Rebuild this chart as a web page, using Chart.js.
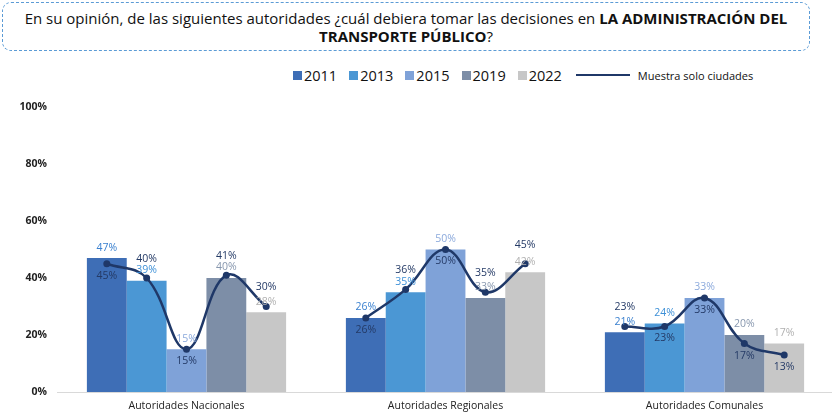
<!DOCTYPE html>
<html>
<head>
<meta charset="utf-8">
<script src="https://cdn.jsdelivr.net/npm/chart.js@4.4.1/dist/chart.umd.min.js"></script>
<style>
    body { margin: 0; background: #fff; font-family: "Open Sans", sans-serif; }
    #wrap { position: relative; width: 832px; height: 415px; overflow: hidden; }
    #title {
        position: absolute; left: 2px; top: 2px; width: 808px; height: 49px;
        box-sizing: border-box; border: 1.5px dashed #5b9bd5; border-radius: 9px;
        text-align: center; font-size: 15px; line-height: 18px; color: #111; padding-top: 6px;
        white-space: nowrap;
    }
    #legend { position: absolute; left: 293px; top: 64px; height: 22px; display: flex; align-items: center; color: #111; }
    .item { display: flex; align-items: center; margin-right: 12px; font-size: 14.5px; }
    .swatch { width: 9px; height: 9px; margin-right: 2px; }
    .lineSwatch { width: 54px; height: 2.5px; margin: 0 8px 0 2px; }
    .lineText { font-size: 11px; }
    #chartBox { position: absolute; left: 0; top: 95px; line-height: 0; }
</style>
</head>
<body>
<div id="wrap">
    <div id="title">En su opinión, de las siguientes autoridades ¿cuál debiera tomar las decisiones en <b>LA ADMINISTRACIÓN DEL<br>TRANSPORTE PÚBLICO</b>?</div>
    <div id="legend"></div>
    <div id="chartBox"><canvas id="chart" width="838" height="320"></canvas></div>
</div>
<script>
// ---- data ----
const groups = ['Autoridades Nacionales', 'Autoridades Regionales', 'Autoridades Comunales'];
const years = ['2011', '2013', '2015', '2019', '2022'];
const v2011 = [47, 26, 21];
const v2013 = [39, 35, 24];
const v2015 = [15, 50, 33];
const v2019 = [40, 33, 20];
const v2022 = [28, 42, 17];
// "Muestra solo ciudades": one value per year inside each group
const ciudadesNac = [45, 40, 15, 41, 30];
const ciudadesReg = [26, 36, 50, 35, 45];
const ciudadesCom = [23, 23, 33, 17, 13];
const lineName = 'Muestra solo ciudades';
const yTicks = [0, 20, 40, 60, 80, 100];

// ---- styling ----
const barColors = ['#3e6eb6', '#4b97d4', '#7fa2d8', '#7d8ea7', '#c7c7c7'];
const barLabelColors = ['#3a80cf', '#3d90d7', '#8caadc', '#8797ae', '#b0b0b0'];
const lineColor = '#1f3868';
// where each line label sits relative to its point
const lineLabelSide = [
    ['below', 'above', 'below', 'above', 'above'],
    ['below', 'above', 'below', 'above', 'above'],
    ['above', 'below', 'below', 'below', 'below']
];

const seriesValues = [v2011, v2013, v2015, v2019, v2022];
const ciudades = [ciudadesNac, ciudadesReg, ciudadesCom];

// bars fill 200px of each 260px group
const catPct = 200 / 260;
const barUnit = catPct / years.length;

// line points sit at the centre of each bar (fractional category index);
// a null between groups breaks the line
const lineData = [];
const lineSides = [];
ciudades.forEach((vals, g) => {
    vals.forEach((v, j) => {
        lineData.push({ x: g + (j - (years.length - 1) / 2) * barUnit, y: v });
        lineSides.push(lineLabelSide[g][j]);
    });
    lineData.push({ x: g + 0.5, y: null });
    lineSides.push(null);
});

// HTML legend
const legend = document.getElementById('legend');
years.forEach((yr, i) => {
    const it = document.createElement('div');
    it.className = 'item';
    it.innerHTML = `<span class="swatch" style="background:${barColors[i]}"></span>${yr}`;
    legend.appendChild(it);
});
const li = document.createElement('div');
li.className = 'item';
li.innerHTML = `<span class="lineSwatch" style="background:${lineColor}"></span><span class="lineText">${lineName}</span>`;
legend.appendChild(li);

const valueLabels = {
    id: 'valueLabels',
    afterDatasetsDraw(chart) {
        const ctx = chart.ctx;
        ctx.save();
        ctx.font = '10.5px "Open Sans"';
        ctx.textAlign = 'center';
        ctx.textBaseline = 'middle';
        chart.data.datasets.forEach((ds, i) => {
            if (ds.type === 'line') return;
            const meta = chart.getDatasetMeta(i);
            ctx.fillStyle = barLabelColors[i];
            meta.data.forEach((bar, k) => {
                ctx.fillText(ds.data[k] + '%', bar.x, bar.y - 10.5);
            });
        });
        // line labels on top
        chart.data.datasets.forEach((ds, i) => {
            if (ds.type !== 'line') return;
            const meta = chart.getDatasetMeta(i);
            ctx.fillStyle = '#243a66';
            meta.data.forEach((pt, k) => {
                const v = ds.data[k].y;
                if (v === null) return;
                const dy = lineSides[k] === 'above' ? -19 : 12;
                ctx.fillText(v + '%', pt.x, pt.y + dy);
            });
        });
        ctx.restore();
    }
};

const datasets = years.map((yr, i) => ({
    type: 'bar',
    label: yr,
    data: seriesValues[i],
    backgroundColor: barColors[i],
    borderWidth: 0,
    categoryPercentage: catPct,
    barPercentage: 1,
    order: 1
}));
datasets.push({
    type: 'line',
    label: lineName,
    data: lineData,
    parsing: false,
    borderColor: lineColor,
    backgroundColor: lineColor,
    borderWidth: 2.5,
    tension: 0.4,
    spanGaps: false,
    pointRadius: 3.5,
    pointBackgroundColor: lineColor,
    pointBorderWidth: 0,
    order: 0
});

new Chart(document.getElementById('chart'), {
    type: 'bar',
    data: { labels: groups, datasets: datasets },
    options: {
        responsive: false,
        animation: false,
        layout: { padding: { top: 12, right: 0, bottom: 0, left: 0 } },
        plugins: {
            legend: { display: false },
            tooltip: { enabled: false }
        },
        scales: {
            x: {
                grid: { display: false, drawTicks: false },
                border: { display: true, color: '#d9d9d9', width: 1 },
                ticks: { color: '#222', padding: 8, font: { family: 'Open Sans', size: 10.5 } },
                afterFit: (s) => { s.height = 23; }
            },
            y: {
                min: yTicks[0],
                max: yTicks[yTicks.length - 1],
                afterBuildTicks: (s) => { s.ticks = yTicks.map(v => ({ value: v })); },
                grid: { display: false, drawTicks: false },
                border: { display: false },
                ticks: {
                    color: '#222',
                    padding: 10,
                    font: { family: 'Open Sans', size: 10.5, weight: 'bold' },
                    callback: (v) => v + '%'
                },
                afterFit: (s) => {
                    s.width = 57;
                    s.paddingTop = 0;
                    s.paddingBottom = 0;
                }
            }
        }
    },
    plugins: [valueLabels]
});
</script>
</body>
</html>
